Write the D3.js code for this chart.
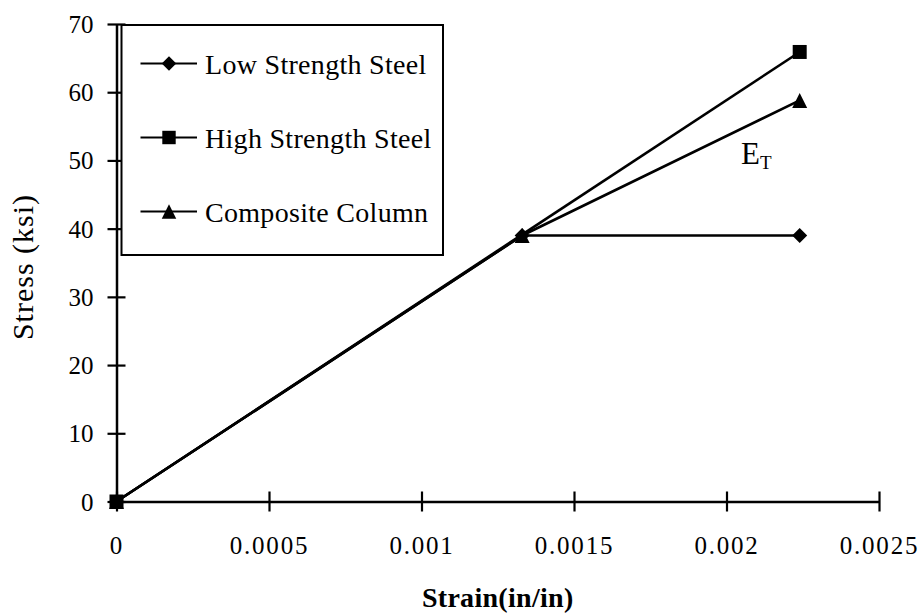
<!DOCTYPE html>
<html>
<head>
<meta charset="utf-8">
<script src="https://cdn.jsdelivr.net/npm/d3@7"></script>
<style>
  body { margin: 0; background: #fff; }
  svg text { font-family: "Liberation Serif", "DejaVu Serif", serif; fill: #000; }
</style>
</head>
<body>
<div id="chart"></div>
<script>
// chart values (stress-strain, ksi vs in/in)
var seriesNames = ["Low Strength Steel", "High Strength Steel", "Composite Column"];
var lowStrain = [0, 0.00133, 0.00224];
var lowStress = [0, 39, 39];
var highStrain = [0, 0.00224];
var highStress = [0, 65.9];
var compStrain = [0, 0.00133, 0.00224];
var compStress = [0, 39, 58.8];
var xTicks = [0, 0.0005, 0.001, 0.0015, 0.002, 0.0025];
var xTickLabels = ["0", "0.0005", "0.001", "0.0015", "0.002", "0.0025"];
var yTicks = [0, 10, 20, 30, 40, 50, 60, 70];

var width = 922, height = 615;
var serif = "Liberation Serif, DejaVu Serif, serif";

var svg = d3.select("#chart").append("svg")
  .attr("width", width)
  .attr("height", height)
  .attr("font-family", serif);

var x = d3.scaleLinear().domain([0, 0.0025]).range([116.5, 879]);
var y = d3.scaleLinear().domain([0, 70]).range([501.5, 24]);

// excel like markers
var diamond = {
  draw: function(ctx, size) {
    var r = Math.sqrt(size) / 2;
    ctx.moveTo(0, -r); ctx.lineTo(r, 0); ctx.lineTo(0, r); ctx.lineTo(-r, 0); ctx.closePath();
  }
};
var triangle = {
  draw: function(ctx, size) {
    var r = Math.sqrt(size) / 2;
    ctx.moveTo(0, -r); ctx.lineTo(r, r); ctx.lineTo(-r, r); ctx.closePath();
  }
};
var square = {
  draw: function(ctx, size) {
    var r = Math.sqrt(size) / 2;
    ctx.rect(-r, -r, 2 * r, 2 * r);
  }
};

var series = [
  { name: seriesNames[0], xs: lowStrain, ys: lowStress, sym: diamond, size: 225 },
  { name: seriesNames[2], xs: compStrain, ys: compStress, sym: triangle, size: 225 },
  { name: seriesNames[1], xs: highStrain, ys: highStress, sym: square, size: 196 }
];

// x axis
var xAxis = svg.append("g")
  .attr("transform", "translate(0," + y(0) + ")")
  .call(d3.axisBottom(x).tickValues(xTicks).tickSize(0).tickFormat(function(d, i) { return xTickLabels[i]; }));
xAxis.attr("font-family", serif).attr("font-size", 25);
xAxis.select(".domain").attr("stroke", "#000").attr("stroke-width", 2.5);
xAxis.selectAll(".tick line").attr("y1", -10).attr("y2", 10).attr("stroke", "#000").attr("stroke-width", 2.2);
xAxis.selectAll(".tick text").attr("y", 52.5).attr("dy", 0).attr("letter-spacing", 1.8);

// y axis
var yAxis = svg.append("g")
  .attr("transform", "translate(" + x(0) + ",0)")
  .call(d3.axisLeft(y).tickValues(yTicks).tickSize(0).tickPadding(23));
yAxis.attr("font-family", serif).attr("font-size", 25);
yAxis.select(".domain").attr("stroke", "#000").attr("stroke-width", 2.5);
yAxis.selectAll(".tick line").attr("x1", -9).attr("x2", 9).attr("stroke", "#000").attr("stroke-width", 2.2);
yAxis.selectAll(".tick text").attr("dy", "0.34em");

// titles
svg.append("text")
  .attr("x", (x.range()[0] + x.range()[1]) / 2)
  .attr("y", 606.5)
  .attr("text-anchor", "middle")
  .attr("font-size", 28)
  .attr("font-weight", "bold")
  .attr("letter-spacing", 0.3)
  .text("Strain(in/in)");

svg.append("text")
  .attr("transform", "translate(33,267) rotate(-90)")
  .attr("text-anchor", "middle")
  .attr("font-size", 30)
  .attr("letter-spacing", 1)
  .text("Stress (ksi)");

// lines
var line = d3.line()
  .x(function(d) { return x(d[0]); })
  .y(function(d) { return y(d[1]); });

series.forEach(function(s) {
  var pts = s.xs.map(function(v, i) { return [v, s.ys[i]]; });
  svg.append("path")
    .datum(pts)
    .attr("fill", "none")
    .attr("stroke", "#000")
    .attr("stroke-width", 2.6)
    .attr("d", line);
});

series.forEach(function(s) {
  var pts = s.xs.map(function(v, i) { return [v, s.ys[i]]; });
  svg.selectAll(null)
    .data(pts)
    .enter()
    .append("path")
    .attr("transform", function(d) { return "translate(" + x(d[0]) + "," + y(d[1]) + ")"; })
    .attr("d", d3.symbol().type(s.sym).size(s.size))
    .attr("fill", "#000");
});

// E_T label
var et = svg.append("text")
  .attr("x", 741)
  .attr("y", 163.5)
  .attr("font-size", 31);
et.append("tspan").text("E");
et.append("tspan").attr("dy", 5).attr("font-size", 19).text("T");

// legend
var legend = svg.append("g");
legend.append("rect")
  .attr("x", 121.5).attr("y", 25)
  .attr("width", 321.5).attr("height", 230)
  .attr("fill", "#fff")
  .attr("stroke", "#000")
  .attr("stroke-width", 2);

var legendItems = [
  { name: seriesNames[0], sym: diamond, size: 210 },
  { name: seriesNames[1], sym: square, size: 180 },
  { name: seriesNames[2], sym: triangle, size: 210 }
];

legendItems.forEach(function(item, i) {
  var ly = 63.5 + i * 74;
  legend.append("line")
    .attr("x1", 140.5).attr("x2", 197)
    .attr("y1", ly).attr("y2", ly)
    .attr("stroke", "#000").attr("stroke-width", 2.2);
  legend.append("path")
    .attr("transform", "translate(169," + ly + ")")
    .attr("d", d3.symbol().type(item.sym).size(item.size))
    .attr("fill", "#000");
  legend.append("text")
    .attr("x", 205)
    .attr("y", ly + 10)
    .attr("font-size", 28)
    .attr("letter-spacing", 0.3)
    .text(item.name);
});
</script>
</body>
</html>
